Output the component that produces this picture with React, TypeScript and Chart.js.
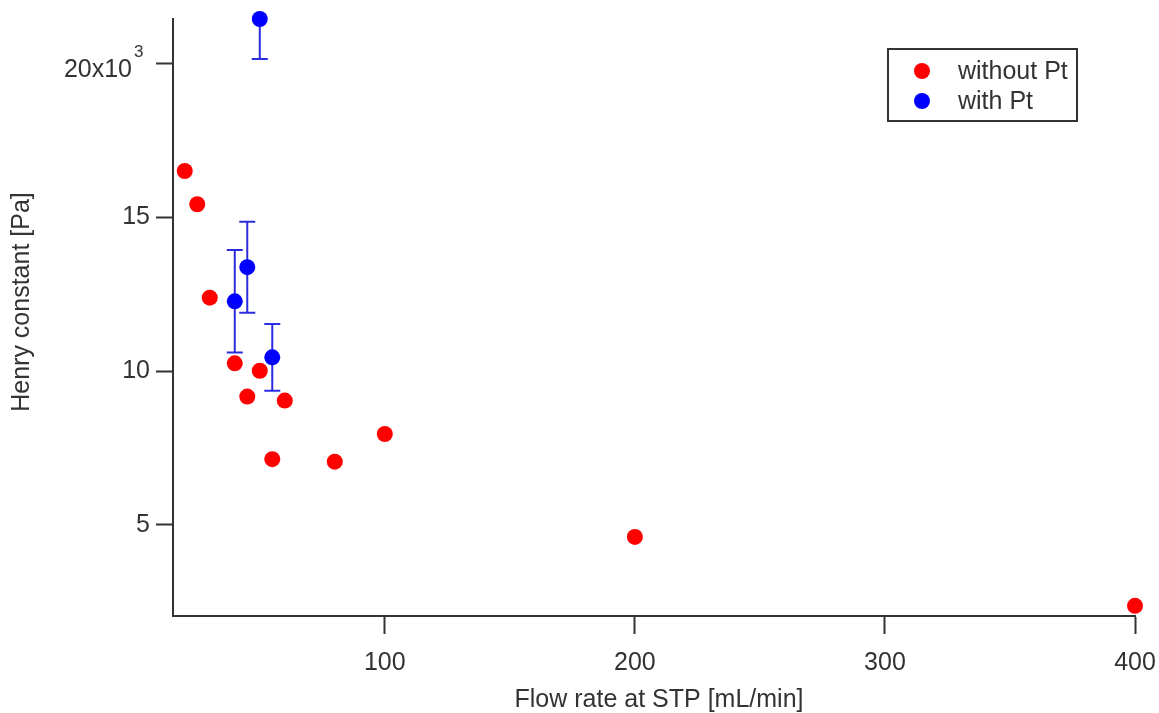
import React, { useEffect, useRef } from "react";
import { Chart, registerables } from "chart.js";

Chart.register(...registerables);

// ---- data ----
const withoutPtFlow = [20, 25, 30, 40, 45, 50, 55, 60, 80, 100, 200, 400];
const withoutPtHenry = [16500, 15420, 12385, 10250, 9170, 10010, 7135, 9040, 7055, 7955, 4610, 2370];

const withPtFlow = [40, 45, 50, 55];
const withPtHenry = [12265, 13375, 21440, 10445];
const withPtError = [1665, 1480, 1300, 1083];

const xTickValues = [100, 200, 300, 400];
const xTickLabels = ["100", "200", "300", "400"];
const yTickValues = [5000, 10000, 15000, 20000];
const yTickLabels = ["5", "10", "15", "20x10"];
const yTickExponents = ["", "", "", "3"];

const seriesLabels = ["without Pt", "with Pt"];
const xTitle = "Flow rate at STP [mL/min]";
const yTitle = "Henry constant [Pa]";

const FONT = "'Liberation Sans', Arial, sans-serif";
const FONT_SIZE = 25;
const TEXT_COLOR = "#333333";
const RED = "#ff0000";
const BLUE = "#0000ff";
const ERR_COLOR = "#2b2be0";

const errorBarPlugin = {
  id: "errorBars",
  beforeDatasetsDraw(chart: any) {
    const { ctx, chartArea } = chart;
    const xs = chart.scales.x;
    const ys = chart.scales.y;
    ctx.save();
    ctx.beginPath();
    ctx.rect(chartArea.left, chartArea.top - 1, chartArea.right - chartArea.left, chartArea.bottom - chartArea.top + 1);
    ctx.clip();
    ctx.strokeStyle = ERR_COLOR;
    ctx.lineWidth = 2;
    const cap = 8;
    withPtFlow.forEach((fx, i) => {
      const px = xs.getPixelForValue(fx);
      const yTop = ys.getPixelForValue(withPtHenry[i] + withPtError[i]);
      const yBot = ys.getPixelForValue(withPtHenry[i] - withPtError[i]);
      ctx.beginPath();
      ctx.moveTo(px, yTop);
      ctx.lineTo(px, yBot);
      ctx.moveTo(px - cap, yTop);
      ctx.lineTo(px + cap, yTop);
      ctx.moveTo(px - cap, yBot);
      ctx.lineTo(px + cap, yBot);
      ctx.stroke();
    });
    ctx.restore();
  },
};

const textPlugin = {
  id: "axisTexts",
  afterDraw(chart: any) {
    const { ctx, chartArea } = chart;
    const ys = chart.scales.y;
    ctx.save();
    ctx.fillStyle = TEXT_COLOR;
    ctx.font = `${FONT_SIZE}px ${FONT}`;

    // y title
    ctx.save();
    ctx.translate(chartArea.left - 151, chartArea.top + 283);
    ctx.rotate(-Math.PI / 2);
    ctx.textAlign = "center";
    ctx.textBaseline = "middle";
    ctx.fillText(yTitle, 0, 0);
    ctx.restore();

    // x title
    ctx.textAlign = "center";
    ctx.textBaseline = "alphabetic";
    ctx.fillText(xTitle, (chartArea.left + chartArea.right) / 2 + 5, chartArea.bottom + 91);

    // y tick labels with exponent
    yTickValues.forEach((v, i) => {
      const exp = yTickExponents[i];
      if (!exp) return;
      const py = ys.getPixelForValue(v);
      const xr = chartArea.left - 41;
      ctx.font = `${FONT_SIZE}px ${FONT}`;
      ctx.textAlign = "right";
      ctx.textBaseline = "alphabetic";
      ctx.fillText(yTickLabels[i], xr, py + 14);
      ctx.font = `17px ${FONT}`;
      ctx.textAlign = "left";
      ctx.fillText(exp, xr + 2, py - 6);
    });
    ctx.restore();
  },
};

const boxLegendPlugin = {
  id: "boxLegend",
  afterDraw(chart: any) {
    const { ctx, chartArea } = chart;
    const right = chartArea.right - 58;
    const left = right - 189;
    const top = chartArea.top + 30;
    const bottom = top + 72;
    ctx.save();
    ctx.fillStyle = "#ffffff";
    ctx.fillRect(left, top, right - left, bottom - top);
    ctx.strokeStyle = "#333333";
    ctx.lineWidth = 2;
    ctx.strokeRect(left, top, right - left, bottom - top);
    ctx.font = `${FONT_SIZE}px ${FONT}`;
    ctx.textBaseline = "middle";
    ctx.textAlign = "left";
    chart.data.datasets.forEach((ds: any, i: number) => {
      const cy = top + 22 + i * 30;
      ctx.beginPath();
      ctx.arc(left + 34, cy, 8, 0, Math.PI * 2);
      ctx.fillStyle = ds.backgroundColor;
      ctx.fill();
      ctx.fillStyle = TEXT_COLOR;
      ctx.fillText(ds.label, left + 70, cy + 1);
    });
    ctx.restore();
  },
};

export default function App() {
  const canvasRef = useRef<HTMLCanvasElement | null>(null);

  useEffect(() => {
    document.body.style.margin = "0";
    const canvas = canvasRef.current;
    if (!canvas) return;

    const chart = new Chart(canvas, {
      type: "scatter",
      data: {
        datasets: [
          {
            label: seriesLabels[0],
            data: withoutPtFlow.map((x, i) => ({ x, y: withoutPtHenry[i] })),
            backgroundColor: RED,
            borderColor: RED,
            pointRadius: 8,
            pointBorderWidth: 0,
            clip: false as any,
          },
          {
            label: seriesLabels[1],
            data: withPtFlow.map((x, i) => ({ x, y: withPtHenry[i] })),
            backgroundColor: BLUE,
            borderColor: BLUE,
            pointRadius: 8,
            pointBorderWidth: 0,
            clip: false as any,
          },
        ],
      },
      options: {
        responsive: false,
        animation: false,
        layout: { padding: { top: 19, right: 24, left: 0, bottom: 0 } },
        plugins: {
          legend: { display: false },
          tooltip: { enabled: false },
        },
        scales: {
          x: {
            type: "linear",
            min: 15.3,
            max: 400,
            afterFit(scale: any) {
              scale.height = 97;
              scale.paddingLeft = 0;
              scale.paddingRight = 0;
            },
            afterBuildTicks(scale: any) {
              scale.ticks = xTickValues.map((v) => ({ value: v }));
            },
            ticks: {
              color: TEXT_COLOR,
              font: { family: FONT, size: FONT_SIZE },
              padding: 14,
              maxRotation: 0,
              autoSkip: false,
              callback: (v: any) => {
                const idx = xTickValues.indexOf(Number(v));
                return idx >= 0 ? xTickLabels[idx] : "";
              },
            },
            grid: {
              drawOnChartArea: false,
              drawTicks: true,
              tickLength: 18,
              tickColor: "#333333",
              tickWidth: 2,
            },
            border: { display: true, color: "#333333", width: 2 },
          },
          y: {
            type: "linear",
            min: 2040,
            max: 21440,
            afterFit(scale: any) {
              scale.width = 173;
              scale.paddingTop = 0;
              scale.paddingBottom = 0;
            },
            afterBuildTicks(scale: any) {
              scale.ticks = yTickValues.map((v) => ({ value: v }));
            },
            ticks: {
              color: TEXT_COLOR,
              font: { family: FONT, size: FONT_SIZE },
              padding: 6,
              autoSkip: false,
              callback: (v: any) => {
                const idx = yTickValues.indexOf(Number(v));
                if (idx < 0 || yTickExponents[idx]) return "";
                return yTickLabels[idx];
              },
            },
            grid: {
              drawOnChartArea: false,
              drawTicks: true,
              tickLength: 17,
              tickColor: "#333333",
              tickWidth: 2,
            },
            border: { display: true, color: "#333333", width: 2 },
          },
        },
      },
      plugins: [errorBarPlugin, textPlugin, boxLegendPlugin],
    });

    return () => {
      chart.destroy();
    };
  }, []);

  return (
    <div style={{ width: 1159, height: 713, background: "#ffffff" }}>
      <canvas ref={canvasRef} width={1159} height={713} style={{ display: "block" }} />
    </div>
  );
}
